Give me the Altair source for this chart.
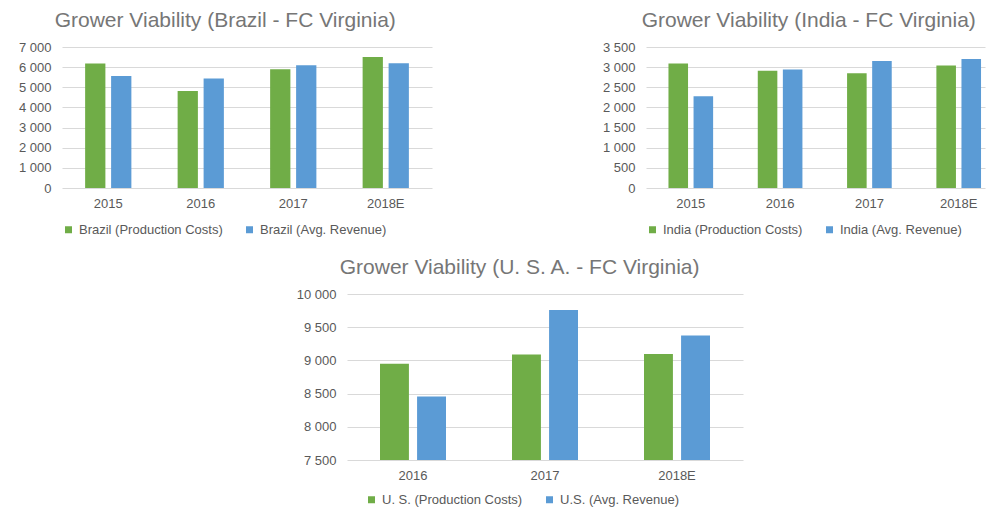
import altair as alt
import pandas as pd

# ---- data ----
brazil_years = ["2015", "2016", "2017", "2018E"]
brazil_costs = [6180, 4820, 5890, 6500]
brazil_revenue = [5560, 5430, 6090, 6190]
brazil_names = ["Brazil (Production Costs)", "Brazil (Avg. Revenue)"]
brazil_ticks = [0, 1000, 2000, 3000, 4000, 5000, 6000, 7000]

india_years = ["2015", "2016", "2017", "2018E"]
india_costs = [3090, 2910, 2850, 3040]
india_revenue = [2275, 2940, 3150, 3200]
india_names = ["India (Production Costs)", "India (Avg. Revenue)"]
india_ticks = [0, 500, 1000, 1500, 2000, 2500, 3000, 3500]

usa_years = ["2016", "2017", "2018E"]
usa_costs = [8950, 9090, 9095]
usa_revenue = [8455, 9760, 9375]
usa_names = ["U. S. (Production Costs)", "U.S. (Avg. Revenue)"]
usa_ticks = [7500, 8000, 8500, 9000, 9500, 10000]

GREEN = "#70AD47"
BLUE = "#5B9BD5"
FONT = "Liberation Sans"
LABEL = "#595959"


def panel(years, costs, revenue, names, ticks, title, width, height,
          outer=0.25, align=0.5, title_dx=0, legend_pos=None):
    rows = []
    for y, c, r in zip(years, costs, revenue):
        rows.append({"year": y, "series": names[0], "value": c})
        rows.append({"year": y, "series": names[1], "value": r})
    df = pd.DataFrame(rows)
    legend_args = dict(direction="horizontal", title=None,
                       symbolType="square", symbolSize=49, symbolStrokeWidth=0,
                       labelFontSize=13, labelColor=LABEL, labelFont=FONT,
                       columnPadding=20, labelOffset=4)
    if legend_pos is None:
        legend_args.update(orient="bottom", offset=13)
    else:
        legend_args.update(orient="none", legendX=legend_pos[0], legendY=legend_pos[1])
    return (
        alt.Chart(
            df,
            title=alt.Title(
                title, fontSize=21, font=FONT, color="#767676", fontWeight="normal",
                anchor="middle", frame="bounds", offset=10, dx=title_dx,
            ),
        )
        .mark_bar(clip=True)
        .encode(
            x=alt.X(
                "year:N", sort=years, title=None,
                scale=alt.Scale(paddingInner=0.5, paddingOuter=outer, align=align),
                axis=alt.Axis(labelAngle=0, ticks=False, domain=False,
                              labelPadding=9, grid=False, labelFont=FONT, labelFontSize=13,
                              labelColor=LABEL),
            ),
            xOffset=alt.XOffset(
                "series:N", sort=names,
                scale=alt.Scale(paddingInner=0.22, paddingOuter=0),
            ),
            y=alt.Y(
                "value:Q", title=None,
                scale=alt.Scale(domain=[ticks[0], ticks[-1]], zero=False, nice=False),
                axis=alt.Axis(values=ticks, domain=False, ticks=False, labelPadding=11,
                              labelFont=FONT, labelFontSize=13, labelColor=LABEL,
                              gridColor="#D9D9D9",
                              labelExpr="replace(format(datum.value, ','), ',', ' ')"),
            ),
            color=alt.Color(
                "series:N", sort=names,
                scale=alt.Scale(domain=names, range=[GREEN, BLUE]),
                legend=alt.Legend(**legend_args),
            ),
        )
        .properties(width=width, height=height)
    )


brazil = panel(brazil_years, brazil_costs, brazil_revenue, brazil_names, brazil_ticks,
               "Grower Viability (Brazil - FC Virginia)", 370, 141)
india = panel(india_years, india_costs, india_revenue, india_names, india_ticks,
              "Grower Viability (India - FC Virginia)", 339, 141,
              outer=0.148, align=0.85, title_dx=15)
usa = panel(usa_years, usa_costs, usa_revenue, usa_names, usa_ticks,
            "Grower Viability (U. S. A. - FC Virginia)", 396, 166,
            legend_pos=(18, 199))

spacer = (
    alt.Chart(pd.DataFrame({"a": [0]}))
    .mark_point(opacity=0)
    .encode(x=alt.value(0), y=alt.value(0))
    .properties(width=224, height=1)
)

top = alt.hconcat(brazil, india, spacing=170).resolve_scale(
    x="independent", y="independent", color="independent", xOffset="independent"
).resolve_legend(color="independent")
bottom = alt.hconcat(spacer, usa, spacing=10).resolve_scale(
    x="independent", y="independent", color="independent", xOffset="independent"
).resolve_legend(color="independent")

chart = (
    alt.vconcat(top, bottom, spacing=20)
    .resolve_scale(x="independent", y="independent", color="independent", xOffset="independent")
    .resolve_legend(color="independent")
    .properties(background="white", padding={"left": 10, "top": 2, "right": 5, "bottom": 5})
    .configure_view(strokeWidth=0, stroke="transparent")
)

chart.save("out.html", embed_options={"renderer": "svg", "actions": False})
